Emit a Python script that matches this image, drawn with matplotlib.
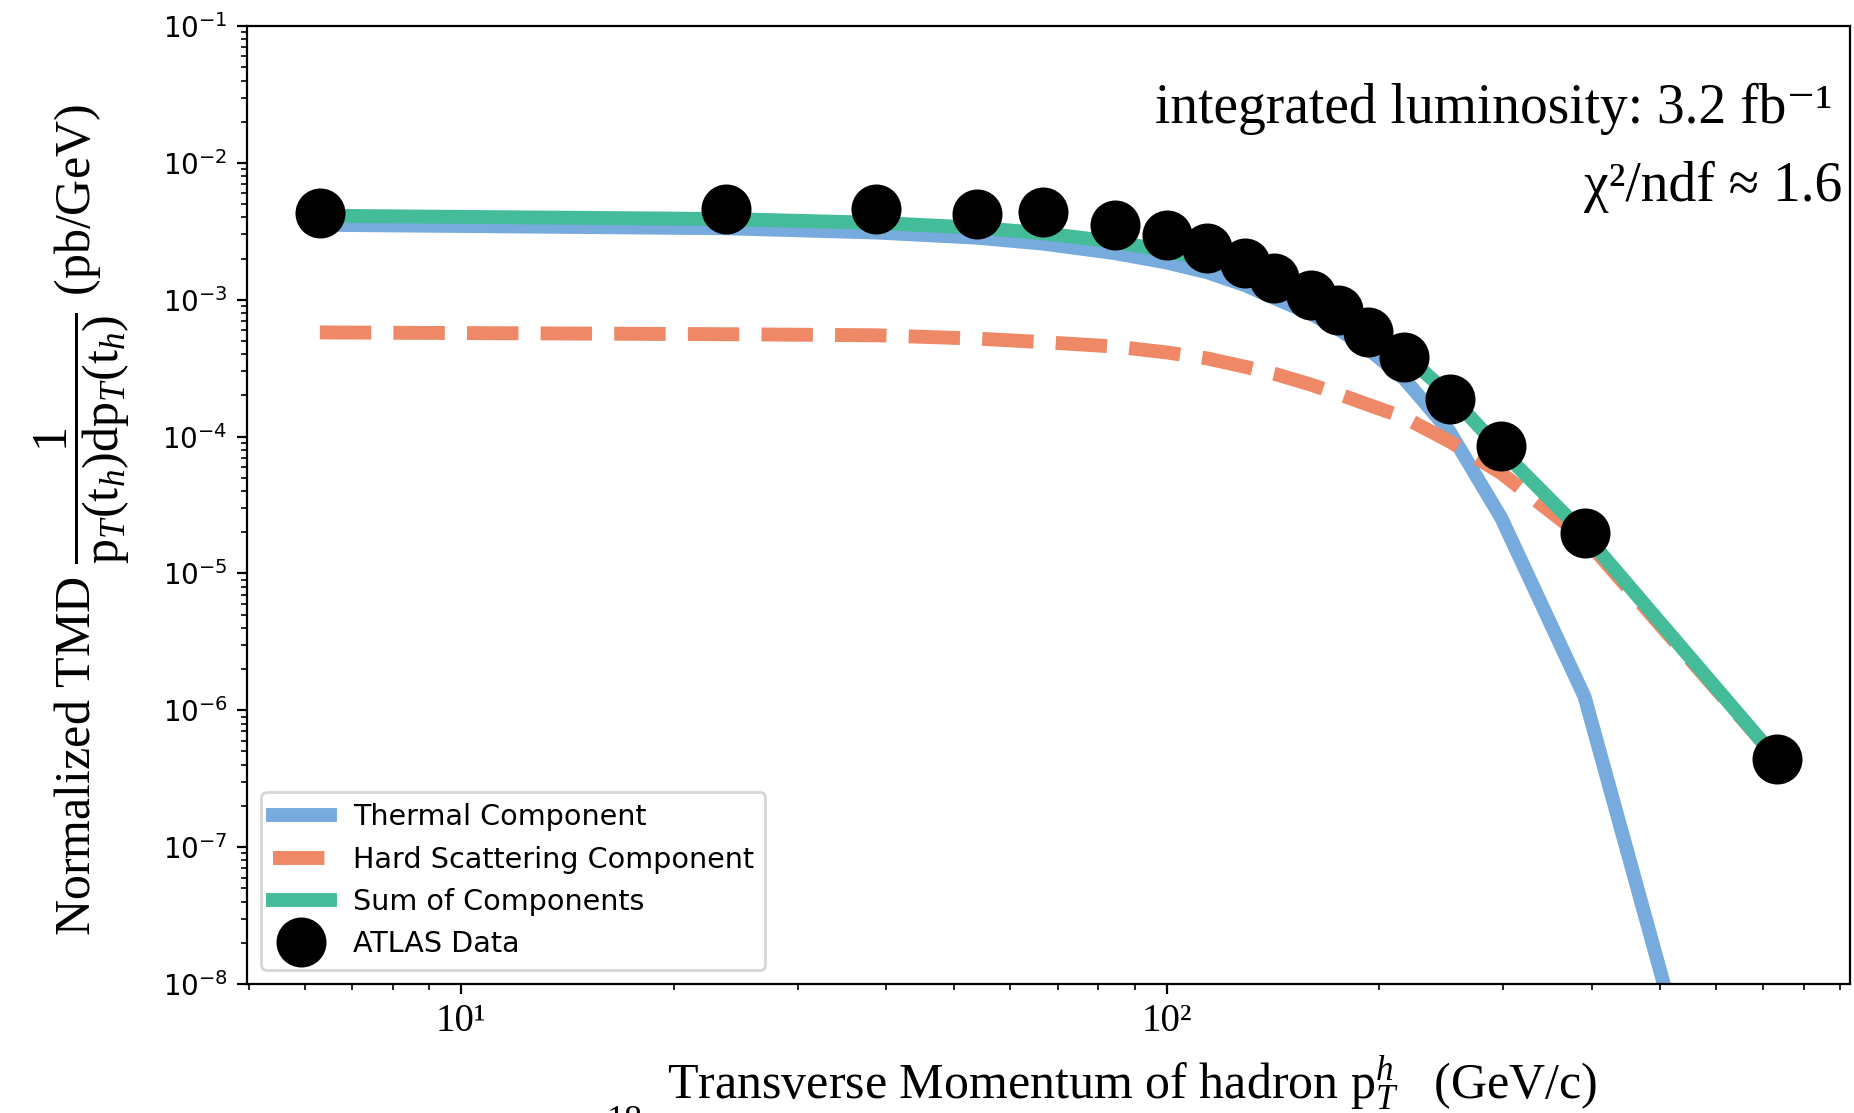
import matplotlib
matplotlib.use("Agg")
import matplotlib.pyplot as plt
import numpy as np

# transverse momentum of the data points (GeV/c)
pt = [6.3, 23.7, 38.7, 53.8, 66.8, 84.4, 100, 114, 129, 142, 160, 175,
      193, 217, 252, 298, 391, 733]

# ATLAS data
atlas = [4.3e-3, 4.57e-3, 4.6e-3, 4.2e-3, 4.4e-3, 3.53e-3, 2.95e-3, 2.37e-3,
         1.87e-3, 1.44e-3, 1.09e-3, 8.43e-4, 5.77e-4, 3.8e-4, 1.89e-4,
         8.5e-5, 1.96e-5, 4.4e-7]

# model components
thermal = [3.53e-3, 3.33e-3, 3.1e-3, 2.84e-3, 2.57e-3, 2.19e-3, 1.87e-3,
           1.59e-3, 1.28e-3, 1.03e-3, 7.9e-4, 6.1e-4, 4.37e-4, 2.65e-4,
           1.08e-4, 2.54e-5, 1.26e-6, 1.0e-11]
hard = [5.77e-4, 5.6e-4, 5.5e-4, 5.2e-4, 4.9e-4, 4.55e-4, 4.12e-4, 3.73e-4,
        3.24e-4, 2.88e-4, 2.4e-4, 2.05e-4, 1.71e-4, 1.38e-4, 9.2e-5, 5.4e-5,
        1.81e-5, 4.4e-7]
total = [4.11e-3, 3.89e-3, 3.65e-3, 3.36e-3, 3.06e-3, 2.65e-3, 2.28e-3,
         1.96e-3, 1.6e-3, 1.32e-3, 1.03e-3, 8.15e-4, 6.08e-4, 4.03e-4,
         2.0e-4, 7.94e-5, 1.94e-5, 4.4e-7]

xtick_vals = [10, 100]
xtick_labels = ["10\u00b9", "10\u00b2"]

serif = ["Liberation Serif", "DejaVu Serif"]
plt.rcParams["mathtext.fontset"] = "custom"
plt.rcParams["mathtext.rm"] = "Liberation Serif"
plt.rcParams["mathtext.it"] = "Liberation Serif:italic"
plt.rcParams["mathtext.bf"] = "Liberation Serif:bold"

fig = plt.figure(figsize=(9.27, 5.565), dpi=200)
ax = fig.add_axes([0.1332, 0.1159, 0.8646, 0.8607])

ax.plot(pt, thermal, color="#77AADD", lw=5, label="Thermal Component")
ax.plot(pt, hard, color="#EE8866", lw=5, ls="--", label="Hard Scattering Component")
ax.plot(pt, total, color="#44BB99", lw=5, label="Sum of Components")
ax.plot(pt, atlas, "o", color="black", ms=17, label="ATLAS Data")

ax.set_xscale("log")
ax.set_yscale("log")
ax.set_ylim(1e-8, 1e-1)

ax.set_xticks(xtick_vals)
ax.set_xticklabels(xtick_labels, family=serif, fontsize=14)

ax.set_xlabel(r"Transverse Momentum of hadron p$_T^h$   (GeV/c)",
              family=serif, fontsize=18)
ax.xaxis.set_label_coords(0.552, -0.073)
ax.set_ylabel(r"Normalized TMD $\dfrac{1}{\mathrm{p}_T(\mathrm{t}_h)\mathrm{dp}_T(\mathrm{t}_h)}$ (pb/GeV)",
              family=serif, fontsize=18)
ax.yaxis.set_label_coords(-0.0715, 0.484)

ax.text(0.989, 0.9136, "integrated luminosity: 3.2 fb\u207b\u00b9", transform=ax.transAxes,
        ha="right", va="center", family=serif, fontsize=20)
ax.text(0.995, 0.832, "\u03c7\u00b2/ndf \u2248 1.6", transform=ax.transAxes,
        ha="right", va="center", family=serif, fontsize=20)

ax.legend(loc="lower left", fontsize=10.3, borderaxespad=0.5)

fig.text(0.337, -0.008, "18", ha="center", va="center", family=serif, fontsize=13)

fig.savefig("out.png", dpi=200)
